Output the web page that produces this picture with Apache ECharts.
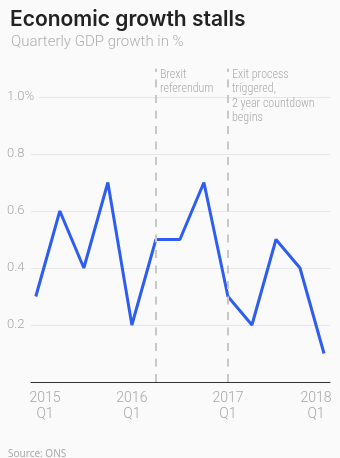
<!DOCTYPE html>
<html>
<head>
<meta charset="utf-8">
<script src="https://cdn.jsdelivr.net/npm/echarts@6/dist/echarts.min.js"></script>
<style>
html,body{margin:0;padding:0;background:#fafafa;}
#c{width:340px;height:458px;}
</style>
</head>
<body>
<div id="c"></div>
<script>
const quarters = ['2015 Q1','2015 Q2','2015 Q3','2015 Q4','2016 Q1','2016 Q2','2016 Q3','2016 Q4','2017 Q1','2017 Q2','2017 Q3','2017 Q4','2018 Q1'];
const growth = [0.3, 0.6, 0.4, 0.7, 0.2, 0.5, 0.5, 0.7, 0.3, 0.2, 0.5, 0.4, 0.1];
const xTickYears = ['2015', '2016', '2017', '2018'];
const xTickQuarter = 'Q1';
const yTicks = [0, 0.2, 0.4, 0.6, 0.8, 1.0];
const yLabelTicks = [0.2, 0.4, 0.6, 0.8, 1.0];
const events = [
  {idx: 5, text: 'Brexit\nreferendum'},
  {idx: 8, text: 'Exit process\ntriggered,\n2 year countdown\nbegins'}
];

const xMin = -0.2, xMax = 12.25;
// label anchors: end labels are clamped to the axis extent, as in the original
const xLabelAnchors = [xMin, 4, 8, xMax];

const chart = echarts.init(document.getElementById('c'));
const lightFont = 'Roboto';
const option = {
  backgroundColor: '#fafafa',
  animation: false,
  title: [
    {text: 'Economic growth stalls', left: 5, top: 4,
     textStyle: {fontFamily: 'Inter', fontSize: 21, fontWeight: 600, color: '#222'}},
    {text: 'Quarterly GDP growth in %', left: 6, top: 30,
     textStyle: {fontFamily: lightFont, fontSize: 15, fontWeight: 300, color: '#b0b0b0'}},
    {text: 'Source: ONS', left: 3, top: 444,
     textStyle: {fontFamily: 'Noto Sans', fontSize: 10, fontWeight: 'normal', color: '#aaa'}}
  ],
  grid: {left: 31, right: 10, top: 68.5, bottom: 76, containLabel: false},
  xAxis: {
    type: 'value', min: xMin, max: xMax,
    axisLine: {show: true, lineStyle: {color: '#333', width: 1}},
    axisTick: {show: false},
    splitLine: {show: false},
    axisLabel: {
      customValues: xLabelAnchors,
      alignMinLabel: 'left', alignMaxLabel: 'right',
      formatter: v => {
        const i = xLabelAnchors.findIndex(a => Math.abs(a - v) < 1e-6);
        return i < 0 ? '' : '{a|' + xTickYears[i] + '}\n{a|' + xTickQuarter + '}';
      },
      margin: 8,
      rich: {
        a: {width: 28, align: 'center', fontFamily: lightFont, fontWeight: 300,
            fontSize: 14, color: '#a8a8a8', lineHeight: 16}
      }
    }
  },
  yAxis: {
    type: 'value', min: 0, max: 1.1,
    axisLine: {show: false},
    axisTick: {show: false, customValues: yTicks},
    splitLine: {show: true, lineStyle: {color: '#e6e6e6', width: 1}},
    axisLabel: {
      customValues: yLabelTicks,
      inside: false, align: 'left', margin: 24,
      formatter: v => (Math.abs(v - 1) < 1e-6 ? '1.0%' : v.toFixed(1)),
      fontFamily: lightFont, fontWeight: 300, fontSize: 13, color: '#a8a8a8',
      backgroundColor: '#fafafa', padding: [0, 5, 0, 0]
    }
  },
  series: [{
    type: 'line',
    data: growth.map((v, i) => [i, v]),
    symbol: 'none',
    lineStyle: {color: '#2d5ef0', width: 3},
    itemStyle: {color: '#2d5ef0'},
    z: 3,
    markLine: {
      silent: true, symbol: 'none',
      lineStyle: {color: '#c8c8c8', width: 2, type: [8, 7.5]},
      label: {show: false},
      data: events.map(e => ({xAxis: e.idx}))
    }
  }]
};
chart.setOption(option);

// annotation texts placed next to their event lines
const gTexts = events.map(e => {
  const px = chart.convertToPixel({gridIndex: 0}, [e.idx, 1.1]);
  return {
    type: 'text', left: px[0] + 4, top: px[1] - 1,
    style: {text: e.text, font: '300 12px "Liberation Sans Narrow", "Roboto Condensed", sans-serif',
            fill: '#aaa', lineHeight: 14.5}
  };
});
chart.setOption({graphic: gTexts});
</script>
</body>
</html>
